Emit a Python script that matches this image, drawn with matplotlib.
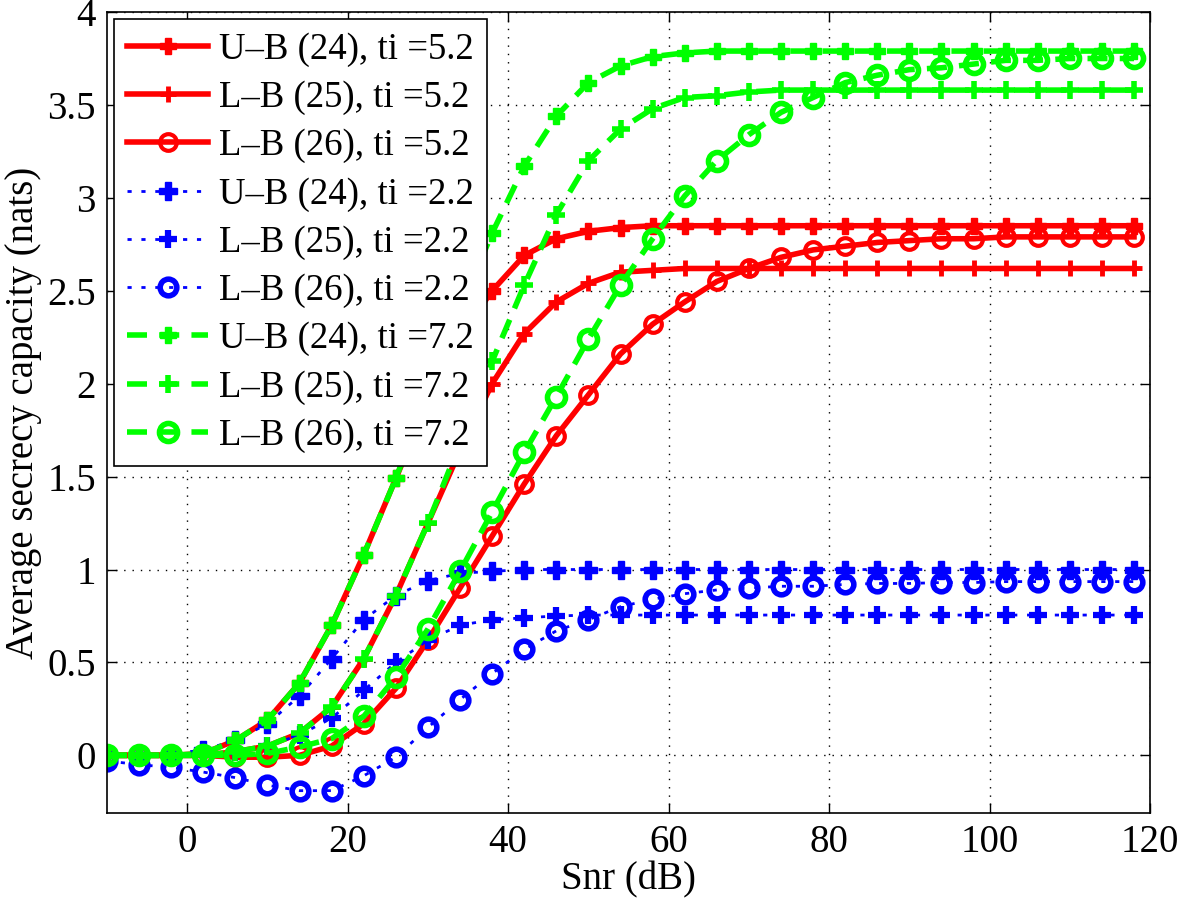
import matplotlib
matplotlib.use("Agg")
import matplotlib.pyplot as plt

snr = [-10, -6, -2, 2, 6, 10, 14, 18, 22, 26, 30, 34, 38, 42, 46, 50, 54, 58,
       62, 66, 70, 74, 78, 82, 86, 90, 94, 98, 102, 106, 110, 114, 118]

ub24_52 = [0, 0, 0, 0.01, 0.08, 0.19, 0.39, 0.70, 1.08, 1.49, 1.90, 2.25, 2.50,
           2.69, 2.78, 2.82, 2.84, 2.85, 2.85, 2.85, 2.85, 2.85, 2.85, 2.85, 2.85,
           2.85, 2.85, 2.85, 2.85, 2.85, 2.85, 2.85, 2.85]
lb25_52 = [0, 0, 0, 0, 0.02, 0.05, 0.12, 0.26, 0.52, 0.86, 1.25, 1.64, 2.00,
           2.27, 2.44, 2.54, 2.60, 2.61, 2.62, 2.62, 2.62, 2.62, 2.62, 2.62, 2.62,
           2.62, 2.62, 2.62, 2.62, 2.62, 2.62, 2.62, 2.62]
lb26_52 = [0, 0, 0, 0, -0.01, -0.01, 0.0, 0.05, 0.17, 0.36, 0.62, 0.90, 1.18,
           1.46, 1.72, 1.94, 2.16, 2.32, 2.44, 2.55, 2.62, 2.68, 2.72, 2.74, 2.76,
           2.77, 2.78, 2.78, 2.79, 2.79, 2.79, 2.79, 2.79]
ub24_22 = [0, 0, 0.005, 0.03, 0.08, 0.17, 0.32, 0.52, 0.73, 0.86, 0.94, 0.98,
           0.99, 1.0, 1.0, 1.0, 1.0, 1.0, 1.0, 1.0, 1.0, 1.0, 1.0, 1.0, 1.0, 1.0,
           1.0, 1.0, 1.0, 1.0, 1.0, 1.0, 1.0]
lb25_22 = [0, 0, 0, 0.005, 0.02, 0.05, 0.11, 0.20, 0.35, 0.50, 0.62, 0.70, 0.73,
           0.74, 0.75, 0.755, 0.755, 0.755, 0.755, 0.755, 0.755, 0.755, 0.755,
           0.755, 0.755, 0.755, 0.755, 0.755, 0.755, 0.755, 0.755, 0.755, 0.755]
lb26_22 = [-0.03, -0.05, -0.065, -0.09, -0.12, -0.16, -0.19, -0.19, -0.11, -0.01,
           0.15, 0.30, 0.44, 0.57, 0.67, 0.73, 0.80, 0.84, 0.87, 0.89, 0.90, 0.91,
           0.91, 0.92, 0.925, 0.925, 0.93, 0.93, 0.935, 0.935, 0.935, 0.935, 0.935]
ub24_72 = [0, 0, 0, 0.01, 0.08, 0.19, 0.39, 0.70, 1.08, 1.49, 1.95, 2.40, 2.81,
           3.17, 3.44, 3.62, 3.71, 3.76, 3.78, 3.79, 3.79, 3.79, 3.79, 3.79, 3.79,
           3.79, 3.79, 3.79, 3.79, 3.79, 3.79, 3.79, 3.79]
lb25_72 = [0, 0, 0, 0, 0.02, 0.05, 0.12, 0.26, 0.52, 0.86, 1.25, 1.68, 2.12,
           2.53, 2.91, 3.20, 3.37, 3.48, 3.54, 3.55, 3.57, 3.58, 3.58, 3.58, 3.58,
           3.58, 3.58, 3.58, 3.58, 3.58, 3.58, 3.58, 3.58]
lb26_72 = [0, 0, 0, 0, 0, 0.01, 0.045, 0.09, 0.21, 0.42, 0.68, 0.99, 1.31, 1.63,
           1.93, 2.24, 2.53, 2.78, 3.01, 3.20, 3.34, 3.46, 3.54, 3.62, 3.66, 3.69,
           3.70, 3.72, 3.74, 3.74, 3.75, 3.75, 3.75]

labels = ["U\u2013B (24), ti =5.2", "L\u2013B (25), ti =5.2", "L\u2013B (26), ti =5.2",
          "U\u2013B (24), ti =2.2", "L\u2013B (25), ti =2.2", "L\u2013B (26), ti =2.2",
          "U\u2013B (24), ti =7.2", "L\u2013B (25), ti =7.2", "L\u2013B (26), ti =7.2"]

xticks = [0, 20, 40, 60, 80, 100, 120]
yticks = [0, 0.5, 1, 1.5, 2, 2.5, 3, 3.5, 4]
yticklabels = ["0", "0.5", "1", "1.5", "2", "2.5", "3", "3.5", "4"]

plt.rcParams['font.family'] = ['Liberation Serif', 'DejaVu Serif']

fig = plt.figure(figsize=(11.81, 9.05), dpi=100)
ax = fig.add_axes([0.0906, 0.1017, 0.9738 - 0.0906, 0.9867 - 0.1017])

red, blue, green = (1, 0, 0), (0, 0, 1), (0, 1, 0)
dotted = (0, (1.5, 3.5))
dashed = (0, (3.6, 2.2))

series = [
    (ub24_52, red, '-', 4, 'P', 11, 1.0, red),
    (lb25_52, red, '-', 4, '+', 12, 3.5, red),
    (lb26_52, red, '-', 4, 'o', 12, 3.0, 'none'),
    (ub24_22, blue, dotted, 2, 'P', 13, 1.0, blue),
    (lb25_22, blue, dotted, 2, '+', 13, 4.5, blue),
    (lb26_22, blue, dotted, 2, 'o', 12, 4.0, 'none'),
    (ub24_72, green, dashed, 4, 'P', 12, 1.0, green),
    (lb25_72, green, dashed, 4, '+', 13, 4.0, green),
    (lb26_72, green, dashed, 4, 'o', 13, 4.0, 'none'),
]
for (y, c, ls, lw, m, ms, mew, mfc), lab in zip(series, labels):
    ax.plot(snr, y, color=c, linestyle=ls, linewidth=lw, marker=m, markersize=ms,
            markeredgewidth=mew, markerfacecolor=mfc, markeredgecolor=c, label=lab)

ax.set_xlim(-10, 120)
ax.set_ylim(-0.31, 4)
ax.set_xticks(xticks)
ax.set_yticks(yticks)
ax.set_yticklabels(yticklabels)
ax.tick_params(direction='in', top=True, right=True, length=7, width=1,
               labelsize=28, pad=8)
for s in ax.spines.values():
    s.set_linewidth(1.2)
ax.grid(True, color='black', linestyle=(0, (1, 5)), linewidth=1.0)
ax.set_xlabel("Snr (dB)", fontsize=28, labelpad=0)
ax.set_ylabel("Average secrecy capacity (nats)", fontsize=28, labelpad=4)

leg = ax.legend(loc='upper left', fontsize=26.5, fancybox=False, framealpha=1,
                edgecolor='black', borderaxespad=0.2, handlelength=2.2,
                labelspacing=0.37, borderpad=0.35, handletextpad=0.3)
leg.get_frame().set_linewidth(1.2)

fig.savefig("out.png", dpi=100)
